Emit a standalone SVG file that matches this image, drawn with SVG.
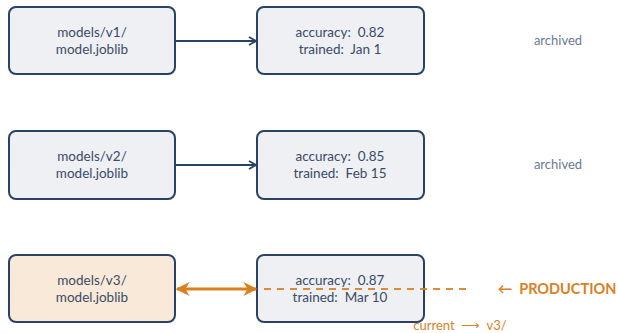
<svg xmlns="http://www.w3.org/2000/svg" width="618" height="333" viewBox="0 0 618 333">
<defs>
<style>
text{white-space:pre}
.box{fill:#eef0f3;stroke:#2a4266;stroke-width:2}
.cur{fill:#f8e9d8;stroke:#2a4266;stroke-width:2}
.t{font-family:"Lato","Liberation Sans",sans-serif;font-size:13.5px;fill:#3b4b66;text-anchor:middle}
.lbl{font-family:"Lato","Liberation Sans",sans-serif;font-size:13px;fill:#6c7a90;text-anchor:middle}
.edge{stroke:#2a4266;stroke-width:1.8;fill:none}
.or{stroke:#d9801f;fill:none}
</style>
<marker id="ah" viewBox="0 0 10 10" refX="9" refY="5" markerWidth="10" markerHeight="10" markerUnits="userSpaceOnUse" orient="auto">
<path d="M2,1 L9,5 L2,9" fill="none" stroke="#2a4266" stroke-width="1.8"/>
</marker>
<marker id="oh" viewBox="0 0 10 10" refX="9" refY="5" markerWidth="14" markerHeight="14" markerUnits="userSpaceOnUse" orient="auto-start-reverse">
<path d="M0,0 L10,5 L0,10 L3,5 Z" fill="#d9801f"/>
</marker>
</defs>
<g id="v1"><rect class="box" x="9" y="7" width="166" height="67" rx="7"/><text class="t" x="92" y="37">models/v1/</text><text class="t" x="92" y="54">model.joblib</text></g>
<g id="m1"><rect class="box" x="257" y="7" width="167" height="67" rx="7"/><text class="t" x="340" y="37">accuracy:  0.82</text><text class="t" x="340" y="54">trained:  Jan 1</text></g>
<g id="v2"><rect class="box" x="9" y="131" width="166" height="68" rx="7"/><text class="t" x="92" y="161">models/v2/</text><text class="t" x="92" y="178">model.joblib</text></g>
<g id="m2"><rect class="box" x="257" y="131" width="167" height="68" rx="7"/><text class="t" x="340" y="161">accuracy:  0.85</text><text class="t" x="340" y="178">trained:  Feb 15</text></g>
<g id="v3"><rect class="cur" x="9" y="255" width="166" height="67" rx="7"/><text class="t" x="92" y="285">models/v3/</text><text class="t" x="92" y="302">model.joblib</text></g>
<g id="m3"><rect class="box" x="257" y="255" width="167" height="67" rx="7"/><text class="t" x="340" y="285">accuracy:  0.87</text><text class="t" x="340" y="302">trained:  Mar 10</text></g>
<g id="labels">
<text class="lbl" x="558" y="45">archived</text>
<text class="lbl" x="558" y="169">archived</text>
<text x="557" y="294" font-family="Lato,'Liberation Sans',sans-serif" font-size="14.5" font-weight="bold" fill="#d9801f" text-anchor="middle">←  PRODUCTION</text>
<text x="460" y="330" font-family="Lato,'Liberation Sans',sans-serif" font-size="13" fill="#d9801f" text-anchor="middle">current  ⟶  v3/</text>
</g>
<g id="connectors">
<line class="edge" x1="175" y1="41" x2="256" y2="41" marker-end="url(#ah)"/>
<line class="edge" x1="175" y1="165" x2="256" y2="165" marker-end="url(#ah)"/>
<line class="or" x1="177" y1="289" x2="256" y2="289" stroke-width="3" marker-start="url(#oh)" marker-end="url(#oh)"/>
<line class="or" x1="264" y1="289" x2="466" y2="289" stroke-width="2" stroke-dasharray="7,6" opacity="0.9"/>
</g>
</svg>
